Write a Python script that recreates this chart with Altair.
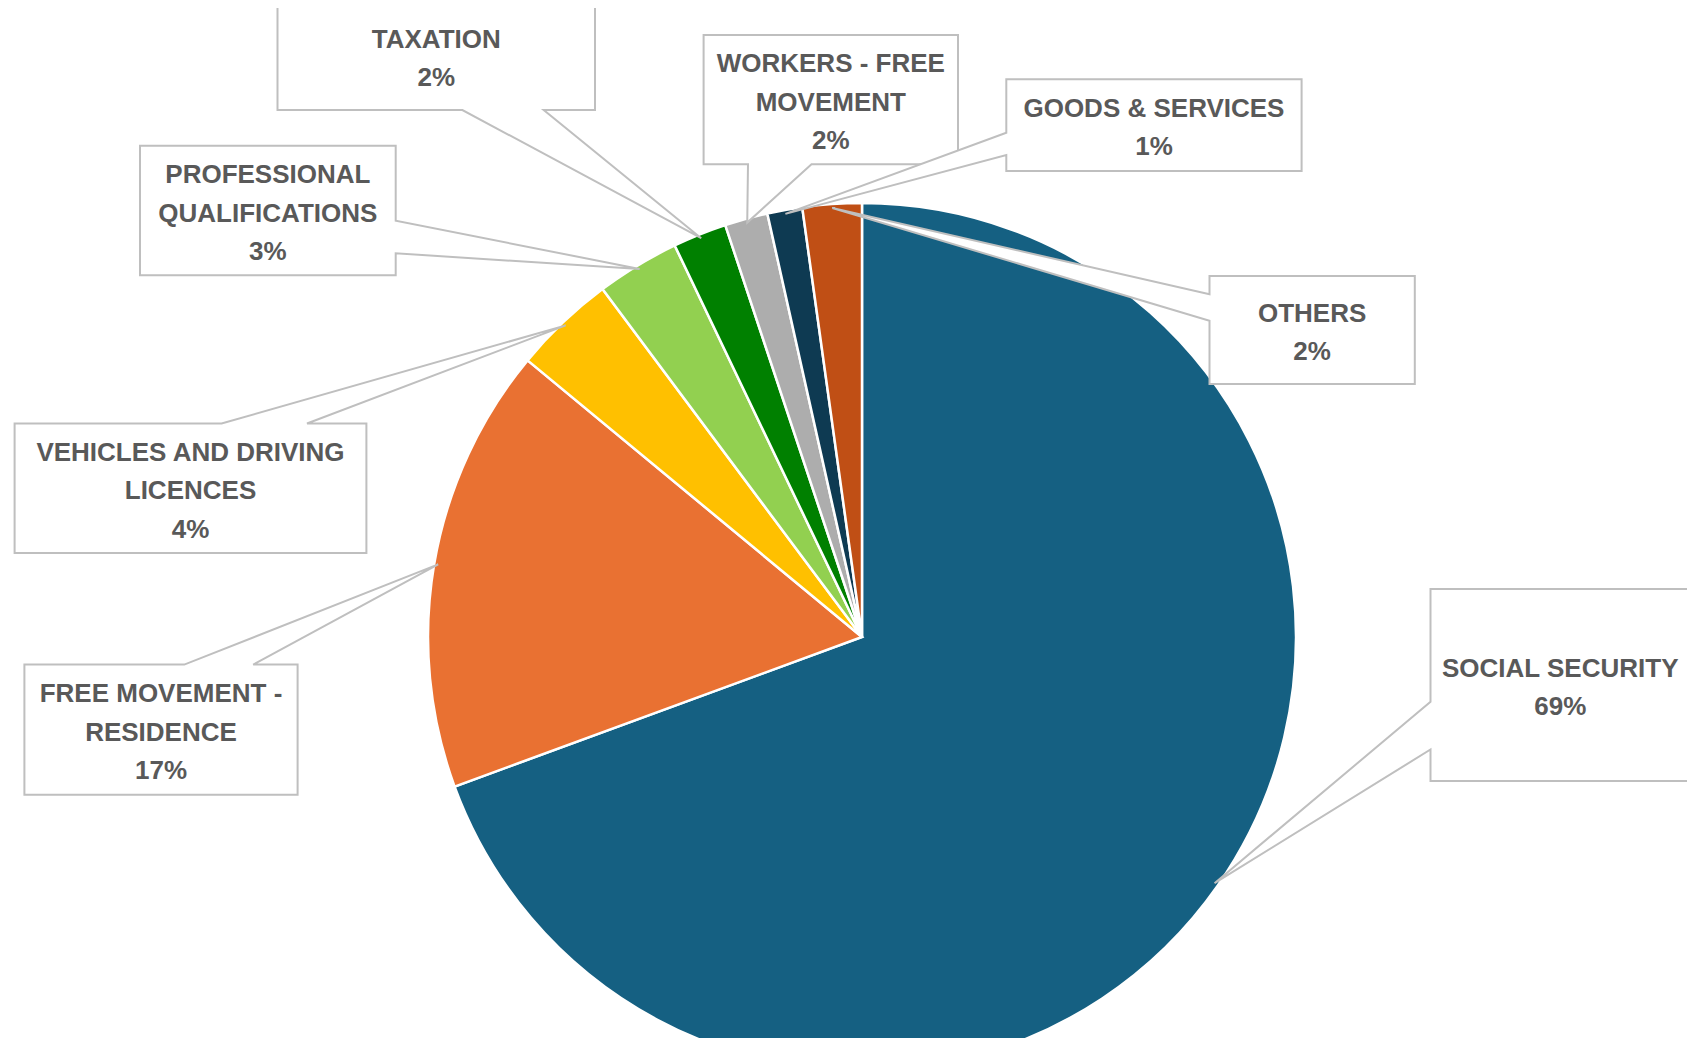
import math
import altair as alt
import pandas as pd

# ---------------- data ----------------
categories = [
    "Social Security",
    "Free Movement - Residence",
    "Vehicles and Driving Licences",
    "Professional Qualifications",
    "Taxation",
    "Workers - Free Movement",
    "Goods & Services",
    "Others",
]
label_names = [
    "SOCIAL SECURITY",
    "FREE MOVEMENT -\nRESIDENCE",
    "VEHICLES AND DRIVING\nLICENCES",
    "PROFESSIONAL\nQUALIFICATIONS",
    "TAXATION",
    "WORKERS - FREE\nMOVEMENT",
    "GOODS & SERVICES",
    "OTHERS",
]
shares = [69.4, 16.6, 3.8, 3.1, 2.0, 1.6, 1.3, 2.2]
colors = ["#156082", "#E97132", "#FFC000", "#92D050", "#008000", "#ADADAD", "#0E3A52", "#C04F15"]

# ---------------- layout (page pixels of the reference) ----------------
OFF = 8                      # page margin
W, H = 1679, 1030            # svg size
CX, CY, R = 862 - OFF, 637 - OFF, 434
TIP_R = 430
LINE = 38.5
CAP_SHIFT = 10
FONT_SIZE = 26

# callout boxes: left, top, right, bottom
boxes = [
    (1430.5, 589, 1690, 781),
    (24.4, 664.6, 297.6, 794.8),
    (14.6, 423.5, 366.4, 553),
    (140, 145.7, 395.7, 275.3),
    (277.5, 2, 595, 110),
    (703.6, 35, 958, 164.3),
    (1006.3, 79.3, 1301.6, 171),
    (1209.5, 276, 1414.8, 384),
]
sides = ["left", "top", "top", "right", "bottom", "bottom", "left", "left"]
bases = [
    (701.8, 749.5),
    (184.3, 253.2),
    (221.6, 307),
    (220.7, 253.3),
    (462.4, 543.7),
    (748, 811.5),
    (132.7, 155),
    (294.3, 320.7),
]

total = sum(shares)

# pie table
pie_df = pd.DataFrame({"category": categories, "share": shares, "idx": list(range(len(categories)))})

# tips at each slice's mid angle
tips = []
acc = 0.0
for s in shares:
    mid = (acc + s / 2) / total * 2 * math.pi
    tips.append((CX + TIP_R * math.sin(mid), CY - TIP_R * math.cos(mid)))
    acc += s


def callout_ring(box, side, base, tip):
    L, T, Rr, B = [v - OFF for v in box]
    a, b = [v - OFF for v in base]
    tx, ty = tip
    pts = [(L, T)]
    if side == "top":
        pts += [(a, T), (tx, ty), (b, T)]
    pts += [(Rr, T)]
    if side == "right":
        pts += [(Rr, a), (tx, ty), (Rr, b)]
    pts += [(Rr, B)]
    if side == "bottom":
        pts += [(b, B), (tx, ty), (a, B)]
    pts += [(L, B)]
    if side == "left":
        pts += [(L, b), (tx, ty), (L, a)]
    pts += [(L, T)]
    return [[float(x), float(y)] for x, y in pts]


features = []
for i in range(len(categories)):
    features.append({
        "type": "Feature",
        "properties": {"category": categories[i]},
        "geometry": {"type": "Polygon", "coordinates": [callout_ring(boxes[i], sides[i], bases[i], tips[i])]},
    })

text_rows = []
for i in range(len(categories)):
    lines = label_names[i].split("\n") + [f"{round(shares[i])}%"]
    L, T, Rr, B = boxes[i]
    cx = (L + Rr) / 2 - OFF
    cy = (T + B) / 2 - OFF + 1
    n = len(lines)
    for j, t in enumerate(lines):
        text_rows.append({"t": t, "x": cx, "y": cy + (j - (n - 1) / 2) * LINE + CAP_SHIFT})
text_df = pd.DataFrame(text_rows)

# ---------------- chart ----------------
pie = alt.Chart(pie_df).mark_arc(radius=R, stroke="white", strokeWidth=2.5).encode(
    theta=alt.Theta("share:Q", stack=True),
    color=alt.Color("category:N", scale=alt.Scale(domain=categories, range=colors), legend=None),
    order=alt.Order("idx:Q", sort="ascending"),
    x=alt.value(CX),
    y=alt.value(CY),
)

callouts = alt.Chart(
    alt.InlineData(values={"type": "FeatureCollection", "features": features},
                   format=alt.DataFormat(property="features", type="json"))
).mark_geoshape(fill="white", stroke="#BFBFBF", strokeWidth=2, strokeJoin="miter").project(
    type="identity", scale=1, translate=[0, 0]
)

texts = alt.Chart(text_df).mark_text(
    font="Liberation Sans", fontSize=FONT_SIZE, fontWeight="bold", color="#595959",
    align="center", baseline="alphabetic",
).encode(
    longitude="x:Q",
    latitude="y:Q",
    text="t:N",
).project(type="identity", scale=1, translate=[0, 0])

chart = alt.layer(pie, callouts, texts).properties(
    width=W, height=H, autosize=alt.AutoSizeParams(type="none"), padding=0, background="white"
).configure_view(stroke=None)

chart.save("out.html", embed_options={"renderer": "svg", "actions": False})
